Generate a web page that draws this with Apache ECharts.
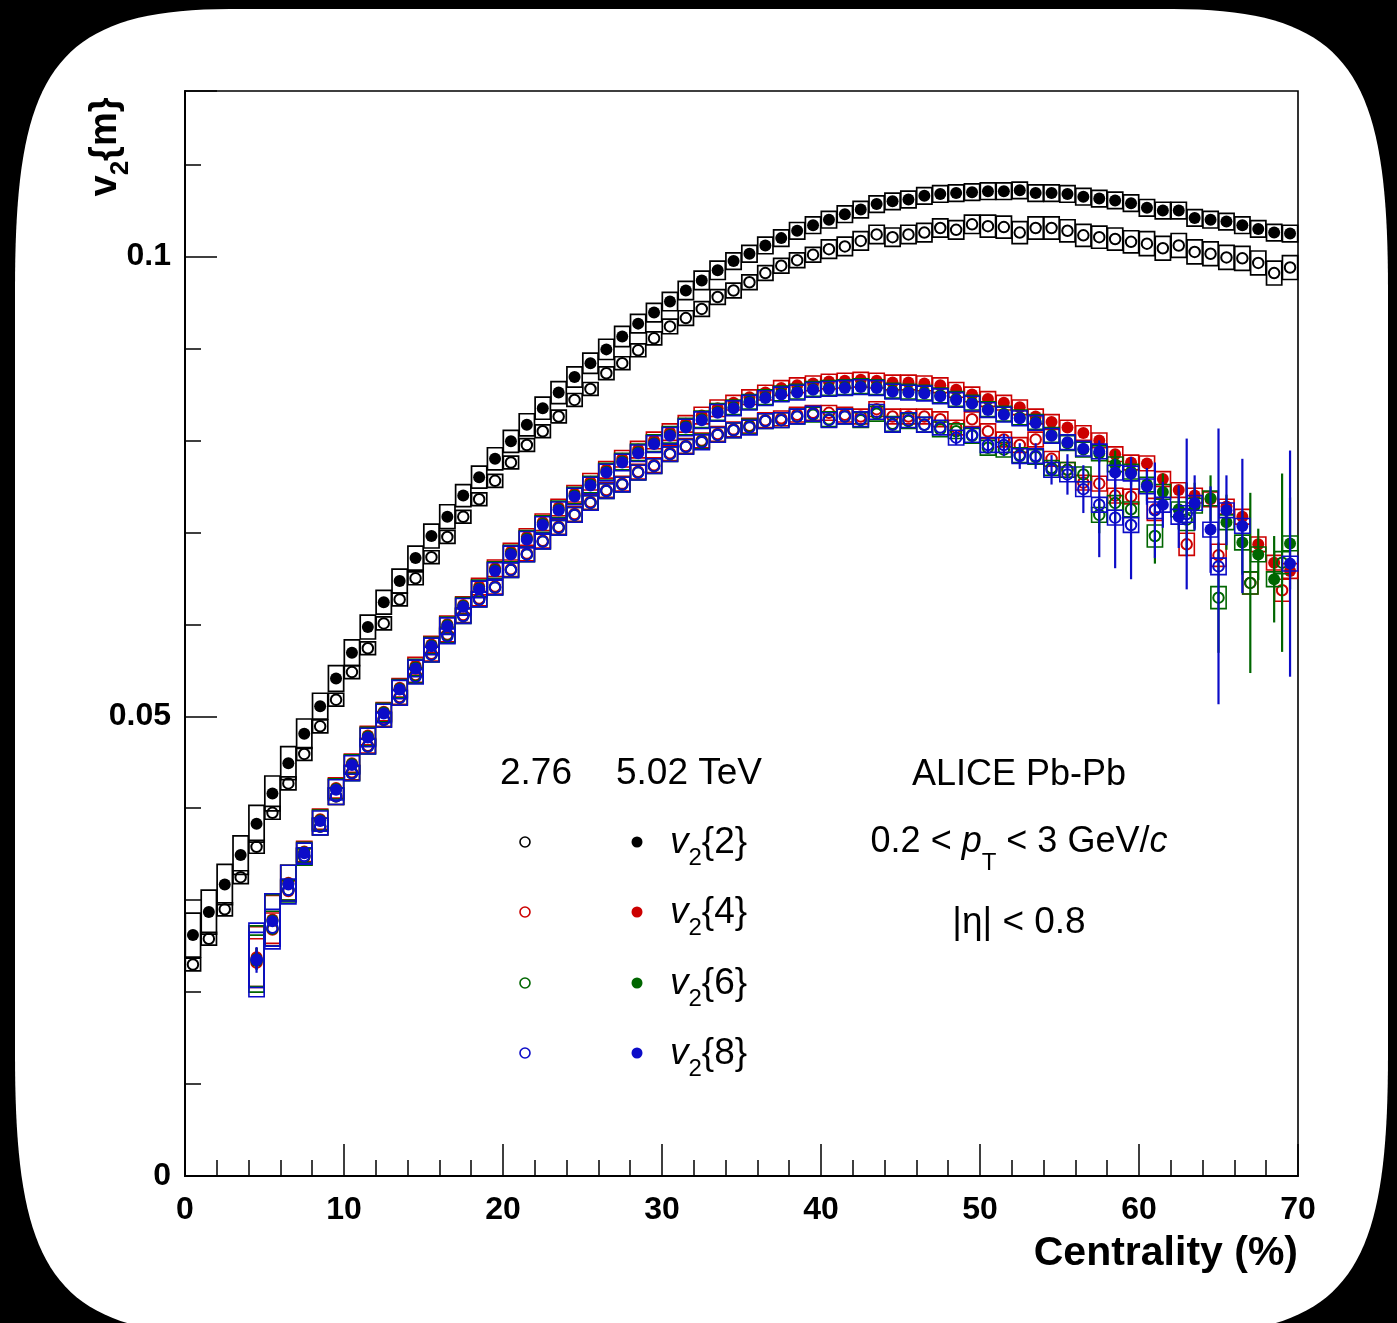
<!DOCTYPE html>
<html><head><meta charset="utf-8">
<script src="https://cdn.jsdelivr.net/npm/echarts@6/dist/echarts.min.js"></script>
<style>html,body{margin:0;padding:0;background:#000;}#c{width:1397px;height:1323px;}</style>
</head><body><div id="c"></div>
<script>
// ---------------- DATA ----------------
const cent1 = [0.5,1.5,2.5,3.5,4.5,5.5,6.5,7.5,8.5,9.5,10.5,11.5,12.5,13.5,14.5,15.5,16.5,17.5,18.5,19.5,
  20.5,21.5,22.5,23.5,24.5,25.5,26.5,27.5,28.5,29.5,30.5,31.5,32.5,33.5,34.5,35.5,36.5,37.5,38.5,39.5,
  40.5,41.5,42.5,43.5,44.5,45.5,46.5,47.5,48.5,49.5,50.5,51.5,52.5,53.5,54.5,55.5,56.5,57.5,58.5,59.5,
  60.5,61.5,62.5,63.5,64.5,65.5,66.5,67.5,68.5,69.5];
const centHi = [4.5,5.5,6.5,7.5,8.5,9.5,10.5,11.5,12.5,13.5,14.5,15.5,16.5,17.5,18.5,19.5,20.5,21.5,22.5,23.5,
  24.5,25.5,26.5,27.5,28.5,29.5,30.5,31.5,32.5,33.5,34.5,35.5,36.5,37.5,38.5,39.5,40.5,41.5,42.5,43.5,
  44.5,45.5,46.5,47.5,48.5,49.5,50.5,51.5,52.5,53.5,54.5,55.5,56.5,57.5,58.5,59.5,60.5,61.5,62.5,63.5,
  64.5,65.5,66.5,67.5,68.5,69.5];
const centLo = [4.5,5.5,6.5,7.5,8.5,9.5,10.5,11.5,12.5,13.5,14.5,15.5,16.5,17.5,18.5,19.5,20.5,21.5,22.5,23.5,
  24.5,25.5,26.5,27.5,28.5,29.5,30.5,31.5,32.5,33.5,34.5,35.5,36.5,37.5,38.5,39.5,40.5,41.5,42.5,43.5,
  44.5,45.5,46.5,47.5,48.5,49.5,50.5,51.5,52.5,53.5,54.5,55.5,56.5,57.5,58.5,59.5,61,63,65,67,69];

// v2{2}
const v22_502 = [0.0262,0.0287,0.0317,0.0349,0.0383,0.0416,0.0449,0.0481,0.0511,0.0541,
  0.0569,0.0597,0.0624,0.0647,0.0672,0.0696,0.0717,0.0740,0.0760,0.0780,
  0.0799,0.0817,0.0835,0.0852,0.0869,0.0884,0.0899,0.0913,0.0927,0.0939,
  0.0951,0.0963,0.0974,0.0985,0.0995,0.1003,0.1012,0.1020,0.1028,0.1034,
  0.1040,0.1046,0.1051,0.1057,0.1060,0.1062,0.1066,0.1068,0.1069,0.1070,
  0.1071,0.1071,0.1072,0.1069,0.1069,0.1068,0.1065,0.1063,0.1061,0.1058,
  0.1053,0.1050,0.1050,0.1042,0.1040,0.1038,0.1034,0.1030,0.1026,0.1025];
const sys22_502 = [0.0024,0.0024,0.0022,0.0021,0.0020,0.0019,0.0018,0.0016,0.0014,0.0014,
  0.0014,0.0013,0.0013,0.0013,0.0013,0.0013,0.0013,0.0012,0.0012,0.0012,
  0.0012,0.0012,0.0012,0.0012,0.0011,0.0011,0.0011,0.0011,0.0010,0.0010,
  0.0010,0.0010,0.0010,0.0010,0.0009,0.0009,0.0009,0.0009,0.0009,0.0009,
  0.0009,0.0009,0.0009,0.0009,0.0009,0.0009,0.0009,0.0009,0.0009,0.0009,
  0.0009,0.0009,0.0009,0.0009,0.0009,0.0009,0.0009,0.0009,0.0009,0.0009,
  0.0009,0.0009,0.0009,0.0009,0.0009,0.0009,0.0009,0.0009,0.0009,0.0009];
const v22_276 = [0.0230,0.0258,0.0290,0.0325,0.0358,0.0395,0.0427,0.0459,0.0489,0.0518,
  0.0548,0.0574,0.0601,0.0627,0.0650,0.0673,0.0695,0.0717,0.0736,0.0756,
  0.0776,0.0795,0.0810,0.0826,0.0844,0.0856,0.0873,0.0884,0.0898,0.0911,
  0.0924,0.0933,0.0943,0.0956,0.0963,0.0972,0.0982,0.0990,0.0996,0.1002,
  0.1008,0.1011,0.1017,0.1024,0.1021,0.1024,0.1026,0.1031,0.1029,0.1035,
  0.1033,0.1032,0.1026,0.1031,0.1031,0.1028,0.1023,0.1021,0.1019,0.1016,
  0.1014,0.1009,0.1012,0.1005,0.1003,0.0999,0.0998,0.0993,0.0982,0.0988];
const sys22_276 = [0.0007,0.0007,0.0007,0.0007,0.0007,0.0007,0.0007,0.0007,0.0007,0.0007,
  0.0007,0.0007,0.0007,0.0007,0.0007,0.0007,0.0007,0.0007,0.0007,0.0007,
  0.0007,0.0007,0.0007,0.0007,0.0007,0.0007,0.0007,0.0007,0.0007,0.0007,
  0.0008,0.0008,0.0008,0.0008,0.0008,0.0008,0.0008,0.0008,0.0008,0.0008,
  0.0010,0.0010,0.0010,0.0010,0.0010,0.0010,0.0010,0.0010,0.0010,0.0010,
  0.0012,0.0012,0.0012,0.0012,0.0012,0.0012,0.0012,0.0012,0.0012,0.0012,
  0.0013,0.0013,0.0013,0.0013,0.0013,0.0013,0.0013,0.0013,0.0013,0.0013];

// v2{4}
const v24_502 = [0.0238,0.0279,0.0319,0.0353,0.0388,0.0422,0.0449,0.0479,0.0505,0.0531,
  0.0555,0.0578,0.0600,0.0621,0.0641,0.0661,0.0679,0.0695,0.0711,0.0727,
  0.0742,0.0755,0.0768,0.0780,0.0790,0.0800,0.0809,0.0818,0.0827,0.0835,
  0.0841,0.0847,0.0852,0.0857,0.0860,0.0862,0.0864,0.0865,0.0866,0.0865,
  0.0863,0.0863,0.0862,0.0860,0.0855,0.0850,0.0845,0.0841,0.0836,0.0826,
  0.0820,0.0814,0.0808,0.0800,0.0785,0.0776,0.0775,0.0758,0.0746,0.0740,
  0.0736,0.0728,0.0717,0.0687,0.0667,0.0658];
const sys24_502 = [0.0033,0.0026,0.0019,0.0011,0.0011,0.0011,0.0010,0.0010,0.0010,0.0010,
  0.0009,0.0009,0.0009,0.0009,0.0009,0.0009,0.0009,0.0009,0.0009,0.0009,
  0.0009,0.0009,0.0009,0.0009,0.0009,0.0009,0.0009,0.0009,0.0009,0.0009,
  0.0008,0.0008,0.0008,0.0008,0.0008,0.0008,0.0008,0.0008,0.0008,0.0008,
  0.0008,0.0008,0.0008,0.0008,0.0008,0.0008,0.0008,0.0008,0.0008,0.0008,
  0.0008,0.0008,0.0008,0.0008,0.0008,0.0008,0.0008,0.0008,0.0008,0.0008,
  0.0008,0.0008,0.0008,0.0008,0.0008,0.0008];
const err24_502 = [0.0010,0,0,0,0,0,0,0,0,0, 0,0,0,0,0,0,0,0,0,0, 0,0,0,0,0,0,0,0,0,0,
  0,0,0,0,0,0,0,0,0,0, 0,0,0,0,0,0,0,0,0,0, 0,0,0,0,0,0,0,0,0,0, 0,0,0,0,0,0];
const v24_276 = [0.0232,0.0268,0.0310,0.0347,0.0380,0.0413,0.0439,0.0468,0.0497,0.0521,
  0.0545,0.0568,0.0589,0.0610,0.0628,0.0641,0.0660,0.0677,0.0691,0.0706,
  0.0720,0.0733,0.0746,0.0753,0.0766,0.0773,0.0786,0.0794,0.0800,0.0807,
  0.0812,0.0816,0.0822,0.0824,0.0828,0.0830,0.0830,0.0828,0.0826,0.0834,
  0.0826,0.0826,0.0826,0.0823,0.0814,0.0823,0.0810,0.0801,0.0795,0.0801,
  0.0780,0.0768,0.0754,0.0753,0.0740,0.0739,
  0.0725,0.0687,0.0675,0.0645,0.0637];
const sys24_276 = [0.0026,0.0018,0.0011,0.0009,0.0009,0.0009,0.0008,0.0008,0.0008,0.0008,
  0.0008,0.0008,0.0008,0.0008,0.0008,0.0008,0.0008,0.0008,0.0008,0.0008,
  0.0008,0.0008,0.0008,0.0008,0.0008,0.0008,0.0008,0.0008,0.0008,0.0008,
  0.0008,0.0008,0.0008,0.0008,0.0008,0.0008,0.0008,0.0008,0.0008,0.0008,
  0.0008,0.0008,0.0008,0.0008,0.0008,0.0008,0.0008,0.0008,0.0008,0.0008,
  0.0008,0.0008,0.0008,0.0008,0.0008,0.0008,
  0.0012,0.0012,0.0012,0.0012,0.0012];
const err24_276 = [0,0,0,0,0,0,0,0,0,0, 0,0,0,0,0,0,0,0,0,0, 0,0,0,0,0,0,0,0,0,0,
  0,0,0,0,0,0,0,0,0,0, 0,0,0,0,0,0,0,0,0,0, 0,0,0,0,0,0, 0,0,0,0,0];

// v2{6}
const v26_502 = [0.0236,0.0278,0.0318,0.0352,0.0387,0.0421,0.0448,0.0478,0.0504,0.0530,
  0.0553,0.0577,0.0599,0.0620,0.0639,0.0659,0.0677,0.0693,0.0709,0.0725,
  0.0740,0.0752,0.0766,0.0777,0.0787,0.0797,0.0806,0.0815,0.0823,0.0831,
  0.0836,0.0842,0.0847,0.0851,0.0853,0.0856,0.0857,0.0858,0.0859,0.0858,
  0.0854,0.0853,0.0852,0.0849,0.0845,0.0841,0.0834,0.0829,0.0825,0.0820,
  0.0806,0.0797,0.0790,0.0786,0.0774,0.0766,0.0752,0.0744,0.0725,0.0729,
  0.0737,0.0711,0.0689,0.0676,0.0649,0.0688];
const sys26_502 = [0.0036,0.0028,0.0020,0.0011,0.0011,0.0011,0.0010,0.0010,0.0010,0.0010,
  0.0009,0.0009,0.0009,0.0009,0.0009,0.0009,0.0009,0.0009,0.0009,0.0009,
  0.0009,0.0009,0.0009,0.0009,0.0009,0.0009,0.0009,0.0009,0.0009,0.0009,
  0.0008,0.0008,0.0008,0.0008,0.0008,0.0008,0.0008,0.0008,0.0008,0.0008,
  0.0008,0.0008,0.0008,0.0008,0.0008,0.0008,0.0008,0.0008,0.0008,0.0008,
  0.0008,0.0008,0.0008,0.0008,0.0008,0.0008,0.0008,0.0008,0.0008,0.0008,
  0.0008,0.0008,0.0008,0.0008,0.0008,0.0008];
const err26_502 = [0.0012,0,0,0,0,0,0,0,0,0, 0,0,0,0,0,0,0,0,0,0, 0,0,0,0,0,0,0,0,0,0,
  0,0,0,0,0,0,0,0,0,0, 0,0,0,0,0,0,0,0,0,0,
  0,0,0,0,0.0015,0.0015,0.0018,0.0020,0.0022,0.0025,
  0.0025,0.0030,0.0035,0.0028,0.0047,0.0050];
const v26_276 = [0.0234,0.0269,0.0311,0.0347,0.0380,0.0413,0.0438,0.0467,0.0496,0.0520,
  0.0544,0.0567,0.0588,0.0609,0.0627,0.0640,0.0659,0.0676,0.0690,0.0705,
  0.0719,0.0732,0.0745,0.0752,0.0765,0.0772,0.0785,0.0793,0.0799,0.0806,
  0.0811,0.0815,0.0821,0.0822,0.0826,0.0828,0.0823,0.0826,0.0822,0.0829,
  0.0818,0.0821,0.0817,0.0812,0.0810,0.0805,0.0792,0.0790,0.0784,0.0782,
  0.0770,0.0768,0.0763,0.0719,0.0732,0.0725,
  0.0696,0.0714,0.0629,0.0645,0.0667];
const sys26_276 = [0.0028,0.0019,0.0011,0.0009,0.0009,0.0009,0.0008,0.0008,0.0008,0.0008,
  0.0008,0.0008,0.0008,0.0008,0.0008,0.0008,0.0008,0.0008,0.0008,0.0008,
  0.0008,0.0008,0.0008,0.0008,0.0008,0.0008,0.0008,0.0008,0.0008,0.0008,
  0.0008,0.0008,0.0008,0.0008,0.0008,0.0008,0.0008,0.0008,0.0008,0.0008,
  0.0008,0.0008,0.0008,0.0008,0.0008,0.0008,0.0008,0.0008,0.0008,0.0008,
  0.0008,0.0008,0.0008,0.0008,0.0008,0.0008,
  0.0012,0.0012,0.0012,0.0012,0.0012];
const err26_276 = [0,0,0,0,0,0,0,0,0,0, 0,0,0,0,0,0,0,0,0,0, 0,0,0,0,0,0,0,0,0,0,
  0,0,0,0,0,0,0,0,0,0, 0,0,0,0,0,0,0,0,0,0,
  0,0,0,0.0020,0.0020,0.0022,
  0.0030,0.0040,0.0060,0.0098,0.0097];

// v2{8}
const v28_502 = [0.0235,0.0277,0.0317,0.0351,0.0386,0.0420,0.0447,0.0477,0.0503,0.0529,
  0.0552,0.0576,0.0598,0.0619,0.0638,0.0658,0.0676,0.0692,0.0708,0.0724,
  0.0739,0.0751,0.0765,0.0776,0.0786,0.0796,0.0805,0.0814,0.0822,0.0830,
  0.0835,0.0841,0.0846,0.0850,0.0852,0.0855,0.0856,0.0857,0.0858,0.0857,
  0.0853,0.0852,0.0851,0.0848,0.0844,0.0840,0.0833,0.0828,0.0824,0.0819,
  0.0805,0.0798,0.0791,0.0788,0.0765,0.0764,0.0750,0.0730,0.0717,0.0732,
  0.0703,0.0724,0.0707,null,null,0.0666];
const sys28_502 = [0.0040,0.0030,0.0021,0.0011,0.0011,0.0011,0.0010,0.0010,0.0010,0.0010,
  0.0009,0.0009,0.0009,0.0009,0.0009,0.0009,0.0009,0.0009,0.0009,0.0009,
  0.0009,0.0009,0.0009,0.0009,0.0009,0.0009,0.0009,0.0009,0.0009,0.0009,
  0.0008,0.0008,0.0008,0.0008,0.0008,0.0008,0.0008,0.0008,0.0008,0.0008,
  0.0008,0.0008,0.0008,0.0008,0.0008,0.0008,0.0008,0.0008,0.0008,0.0008,
  0.0008,0.0008,0.0008,0.0008,0.0008,0.0008,0.0008,0.0008,0.0008,0.0008,
  0.0008,0.0008,0.0008,0.0008,0.0008,0.0008];
const err28_502 = [0.0014,0,0,0,0,0,0,0,0,0, 0,0,0,0,0,0,0,0,0,0, 0,0,0,0,0,0,0,0,0,0,
  0,0,0,0,0,0,0,0,0,0, 0,0,0,0,0,0,0,0,0,0,
  0,0,0,0.0012,0.0015,0.0018,0.0020,0.0025,0.0034,0.0030,
  0.0047,0.0038,0.0073,0,0,0.0123];
const v28_276 = [0.0235,0.0270,0.0311,0.0348,0.0380,0.0413,0.0438,0.0467,0.0496,0.0520,
  0.0543,0.0567,0.0587,0.0609,0.0627,0.0640,0.0659,0.0676,0.0690,0.0705,
  0.0719,0.0732,0.0745,0.0752,0.0765,0.0772,0.0785,0.0793,0.0798,0.0806,
  0.0811,0.0814,0.0821,0.0822,0.0826,0.0829,0.0822,0.0826,0.0823,0.0831,
  0.0817,0.0822,0.0817,0.0814,0.0803,0.0806,0.0795,0.0795,0.0783,0.0783,
  0.0768,0.0763,0.0747,0.0730,0.0716,0.0708,
  0.0724,0.0720,0.0663,null,null];
const sys28_276 = [0.0030,0.0020,0.0012,0.0009,0.0009,0.0009,0.0008,0.0008,0.0008,0.0008,
  0.0008,0.0008,0.0008,0.0008,0.0008,0.0008,0.0008,0.0008,0.0008,0.0008,
  0.0008,0.0008,0.0008,0.0008,0.0008,0.0008,0.0008,0.0008,0.0008,0.0008,
  0.0008,0.0008,0.0008,0.0008,0.0008,0.0008,0.0008,0.0008,0.0008,0.0008,
  0.0008,0.0008,0.0008,0.0008,0.0008,0.0008,0.0008,0.0008,0.0008,0.0008,
  0.0008,0.0008,0.0008,0.0008,0.0008,0.0008,
  0.0009,0.0009,0.0009,0.0009,0.0009];
const err28_276 = [0.0010,0,0,0,0,0,0,0,0,0, 0,0,0,0,0,0,0,0,0,0, 0,0,0,0,0,0,0,0,0,0,
  0,0,0,0,0,0,0,0,0,0,
  0,0,0,0,0.0008,0.0008,0.0008,0.0012,0.0014,0.0014,
  0.0016,0.0022,0.0026,0.0057,0.0055,0.0059,
  0.0052,0.0082,0.0150,0,0];

const xTicks = [0,10,20,30,40,50,60,70];
const yTickLabels = {0:'0', 5:'0.05', 10:'0.1'};

// ---------------- STYLE ----------------
const FONT = '"Liberation Sans", Arial, Helvetica, sans-serif';
const BLACK = '#000000', RED = '#cc0000', GREEN = '#006600', BLUE = '#0c0cc8';
const BOXW = 0.96;

function pts(xs, ys, es) {
  const out = [];
  for (let i = 0; i < xs.length; i++) {
    if (ys[i] == null) continue;
    out.push([xs[i], ys[i], es ? es[i] : 0]);
  }
  return out;
}
let zc = 2;
function boxSeries(xs, ys, sys, color, lw) {
  return {
    type: 'custom', silent: true, z: zc++, data: pts(xs, ys, sys), encode: {x: 0, y: 1},
    renderItem: function (p, api) {
      const x = api.value(0), y = api.value(1), s = api.value(2);
      const a = api.coord([x - BOXW / 2, y + s]);
      const b = api.coord([x + BOXW / 2, y - s]);
      return {type: 'rect', shape: {x: a[0], y: a[1], width: b[0] - a[0], height: b[1] - a[1]},
        style: {fill: 'none', stroke: color, lineWidth: lw || 1.6}};
    }
  };
}
function errSeries(xs, ys, es, color) {
  return {
    type: 'custom', silent: true, z: zc++, data: pts(xs, ys, es).filter(d => d[2] > 0), encode: {x: 0, y: 1},
    renderItem: function (p, api) {
      const x = api.value(0), y = api.value(1), e = api.value(2);
      const a = api.coord([x, y + e]);
      const b = api.coord([x, y - e]);
      return {type: 'line', shape: {x1: a[0], y1: a[1], x2: b[0], y2: b[1]},
        style: {stroke: color, lineWidth: 2.2}};
    }
  };
}
function markSeries(xs, ys, color, open) {
  return {
    type: 'scatter', silent: true, z: zc++, symbol: 'circle',
    symbolSize: open ? 10.5 : 12,
    data: pts(xs, ys).map(d => [d[0], d[1]]),
    itemStyle: open ? {color: 'rgba(0,0,0,0)', borderColor: color, borderWidth: 2, opacity: 1}
                    : {color: color, opacity: 1}
  };
}

const series = [];
series.push(boxSeries(cent1, v22_276, sys22_276, BLACK, 1.7));
series.push(boxSeries(cent1, v22_502, sys22_502, BLACK, 1.7));
series.push(markSeries(cent1, v22_276, BLACK, true));
series.push(markSeries(cent1, v22_502, BLACK, false));
const colored = [
  [RED, v24_276, sys24_276, err24_276, v24_502, sys24_502, err24_502],
  [GREEN, v26_276, sys26_276, err26_276, v26_502, sys26_502, err26_502],
  [BLUE, v28_276, sys28_276, err28_276, v28_502, sys28_502, err28_502]
];
colored.forEach(c => {
  series.push(boxSeries(centLo, c[1], c[2], c[0], 1.6));
  series.push(boxSeries(centHi, c[4], c[5], c[0], 1.6));
  series.push(errSeries(centLo, c[1], c[3], c[0]));
  series.push(errSeries(centHi, c[4], c[6], c[0]));
  series.push(markSeries(centLo, c[1], c[0], true));
  series.push(markSeries(centHi, c[4], c[0], false));
});

// ---------------- GRAPHICS (frame + texts) ----------------
function bez(p0, p1, p2, p3, n, out) {
  for (let i = 1; i <= n; i++) {
    const t = i / n, u = 1 - t;
    out.push([u*u*u*p0[0] + 3*u*u*t*p1[0] + 3*u*t*t*p2[0] + t*t*t*p3[0],
              u*u*u*p0[1] + 3*u*u*t*p1[1] + 3*u*t*t*p2[1] + t*t*t*p3[1]]);
  }
}
const frame = [[230, 9], [1173, 9]];
bez([1173, 9], [1353, 9], [1388, 78], [1388, 290], 40, frame);
frame.push([1388, 1054]);
bez([1388, 1054], [1388, 1266], [1353, 1335], [1173, 1335], 40, frame);
frame.push([230, 1335]);
bez([230, 1335], [50, 1335], [15, 1266], [15, 1054], 40, frame);
frame.push([15, 290]);
bez([15, 290], [15, 78], [50, 9], [230, 9], 40, frame);

const graphics = [
  {type: 'polygon', z: -100, silent: true, shape: {points: frame}, style: {fill: '#ffffff', stroke: 'none'}}
];
function txt(text, x, y, align, size, weight) {
  return {type: 'text', x: x, y: y, z: 100, silent: true,
    style: {text: text, fill: '#000', font: (weight || 'normal') + ' ' + size + 'px ' + FONT,
      align: align, textAlign: align, verticalAlign: 'middle', textVerticalAlign: 'middle'}};
}
graphics.push({type: 'text', x: 106, y: 147, rotation: Math.PI / 2, z: 100, silent: true,
  style: {text: '{a|v}{s|2}{a|{m}' + '}', fill: '#000', font: 'bold 38px ' + FONT, lineHeight: 44,
    align: 'center', textAlign: 'center', verticalAlign: 'middle', textVerticalAlign: 'middle',
    rich: {a: {fontSize: 38, fontWeight: 'bold', fontFamily: FONT, lineHeight: 44},
           s: {fontSize: 26, fontWeight: 'bold', fontFamily: FONT, lineHeight: 14, padding: [30, 0, 0, 0]}}}});
graphics.push(txt('Centrality (%)', 1298, 1254, 'right', 41, 'bold'));
graphics.push(txt('2.76', 500, 774, 'left', 37));
graphics.push(txt('5.02 TeV', 616, 774, 'left', 37));
graphics.push(txt('ALICE Pb-Pb', 1019, 775, 'center', 36));
graphics.push({type: 'text', x: 1019, y: 842, z: 100, silent: true,
  style: {text: '0.2 < {i|p}{t|T} < 3 GeV/{i|c}', fill: '#000', font: '36px ' + FONT, lineHeight: 60,
    align: 'center', textAlign: 'center', verticalAlign: 'middle', textVerticalAlign: 'middle',
    rich: {i: {fontSize: 36, fontStyle: 'italic', fontFamily: FONT, lineHeight: 60},
           t: {fontSize: 24, fontFamily: FONT, lineHeight: 18, padding: [42, 0, 0, 0]}}}});
graphics.push(txt('|\u03b7| < 0.8', 1019, 923, 'center', 37));
const legRows = [['2', BLACK, 842], ['4', RED, 912], ['6', GREEN, 983], ['8', BLUE, 1053]];
legRows.forEach(r => {
  graphics.push({type: 'circle', z: 100, silent: true, shape: {cx: 525, cy: r[2], r: 5},
    style: {fill: 'none', stroke: r[1], lineWidth: 1.6}});
  graphics.push({type: 'circle', z: 100, silent: true, shape: {cx: 637, cy: r[2], r: 5.5},
    style: {fill: r[1], stroke: 'none'}});
  graphics.push({type: 'text', x: 670, y: r[2] + 1, z: 100, silent: true,
    style: {text: '{v|v}{s|2}{n|{' + r[0] + '}' + '}', fill: '#000', font: '37px ' + FONT, lineHeight: 44,
      align: 'left', textAlign: 'left', verticalAlign: 'middle', textVerticalAlign: 'middle',
      rich: {v: {fontSize: 37, fontStyle: 'italic', fontFamily: FONT, lineHeight: 44},
             s: {fontSize: 24, fontFamily: FONT, lineHeight: 14, padding: [30, 0, 0, 0]},
             n: {fontSize: 37, fontFamily: FONT, lineHeight: 44}}}});
});

// ---------------- CHART ----------------
const chart = echarts.init(document.getElementById('c'), null, {renderer: 'canvas'});
const yLabelFmt = function (v) {
  const k = Math.round(v * 100);
  if (Math.abs(v * 100 - k) > 1e-6) return '';
  return yTickLabels[k] !== undefined ? yTickLabels[k] : '';
};
chart.setOption({
  animation: false,
  backgroundColor: '#000',
  grid: {left: 185, top: 91, width: 1113, height: 1085, show: true, borderColor: '#000', borderWidth: 1.6,
    backgroundColor: 'rgba(0,0,0,0)'},
  xAxis: {type: 'value', min: xTicks[0], max: xTicks[xTicks.length - 1], interval: 10,
    axisLine: {show: true, onZero: false, lineStyle: {color: '#000', width: 2}},
    axisTick: {show: true, inside: true, length: 32, lineStyle: {color: '#000', width: 1.5}},
    minorTick: {show: true, splitNumber: 5, length: 16, lineStyle: {color: '#000', width: 1.5}},
    splitLine: {show: false},
    axisLabel: {show: true, margin: 18, color: '#000', fontSize: 32, fontWeight: 'bold', fontFamily: FONT,
      formatter: v => xTicks.indexOf(v) >= 0 ? String(v) : ''}},
  yAxis: [
    {type: 'value', min: 0, max: 0.118, interval: 0.01, position: 'left',
      axisLine: {show: true, onZero: false, lineStyle: {color: '#000', width: 2}},
      axisTick: {show: true, inside: true, length: 16, lineStyle: {color: '#000', width: 1.5}},
      splitLine: {show: false},
      axisLabel: {show: true, margin: 14, color: '#000', fontSize: 32, fontWeight: 'bold', fontFamily: FONT,
        formatter: yLabelFmt, showMaxLabel: false}},
    {type: 'value', min: 0, max: 0.118, interval: 0.05, position: 'left', offset: 0,
      axisLine: {show: false},
      axisTick: {show: true, inside: true, length: 32, lineStyle: {color: '#000', width: 1.5}},
      splitLine: {show: false}, axisLabel: {show: false}}
  ],
  graphic: {elements: graphics},
  series: series
});
</script></body></html>
